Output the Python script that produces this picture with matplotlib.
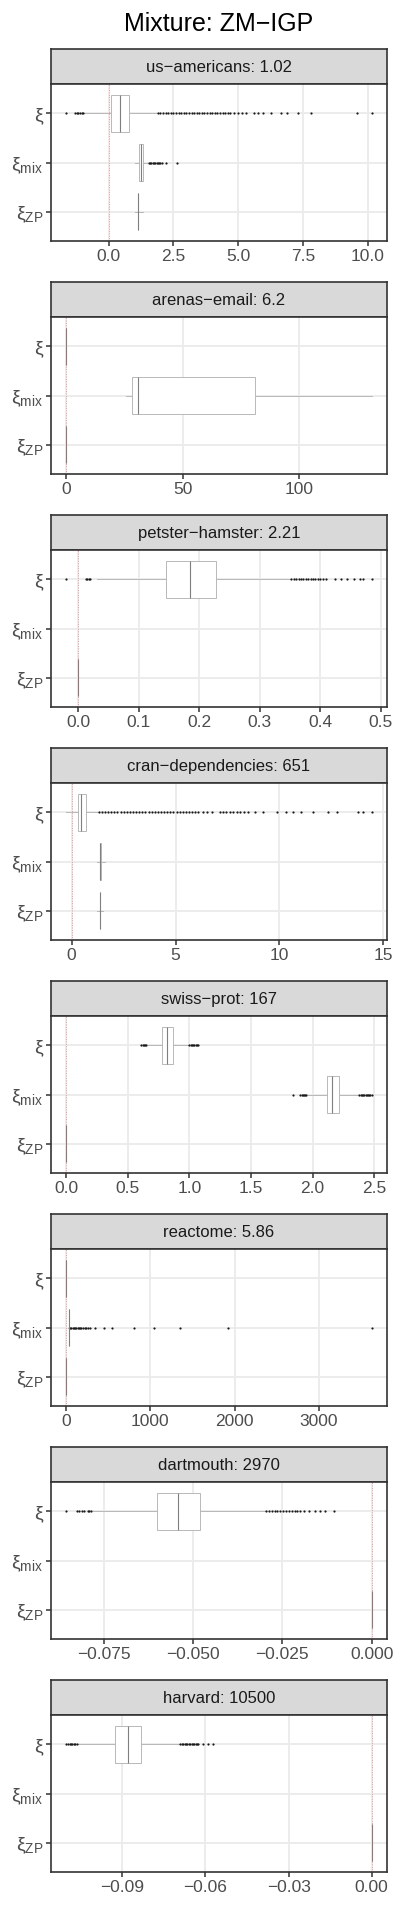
import matplotlib
matplotlib.use("Agg")
import matplotlib.pyplot as plt

plt.rcParams['font.family'] = ['Liberation Sans', 'DejaVu Sans']
plt.rcParams['mathtext.fontset'] = 'custom'
plt.rcParams['mathtext.rm'] = 'Liberation Sans'
plt.rcParams['mathtext.it'] = 'Liberation Sans:italic'

title = "Mixture: ZM\u2212IGP"
networks = ["us\u2212americans", "arenas\u2212email", "petster\u2212hamster", "cran\u2212dependencies",
            "swiss\u2212prot", "reactome", "dartmouth", "harvard"]
network_values = ["1.02", "6.2", "2.21", "651", "167", "5.86", "2970", "10500"]
row_labels = ["\u03be", "\u03be$_{\\mathrm{mix}}$", "\u03be$_{\\mathrm{ZP}}$"]

# box stats: whislo, q1, med, q3, whishi
xi_box = [
    [-0.95, 0.08, 0.45, 0.78, 1.85],
    [0, 0, 0, 0, 0],
    [0.03, 0.145, 0.185, 0.2275, 0.35],
    [-0.26, 0.30, 0.47, 0.71, 1.27],
    [0.667, 0.78, 0.82, 0.864, 0.99],
    [0, 0, 0, 0, 0],
    [-0.078, -0.0602, -0.0541, -0.0482, -0.030],
    [-0.1062, -0.0927, -0.088, -0.0833, -0.0693],
]
mix_box = [
    [1.03, 1.17, 1.25, 1.32, 1.51],
    [25.8, 28.4, 31.0, 81.2, 131.3],
    None,
    [1.22, 1.37, 1.38, 1.39, 1.59],
    [1.96, 2.113, 2.16, 2.216, 2.377],
    [20, 28, 31, 34, 42],
    None,
    None,
]
zp_box = [
    [1.02, 1.12, 1.13, 1.14, 1.34],
    [0, 0, 0, 0, 0],
    [0, 0, 0, 0, 0],
    [1.20, 1.34, 1.35, 1.36, 1.50],
    [0, 0, 0, 0, 0],
    [0, 0, 0, 0, 0],
    [0, 0, 0, 0, 0],
    [0, 0, 0, 0, 0],
]

xi_fliers = [
    [-1.63, -1.30, -1.22, -1.16, -1.10, -1.04, -0.99,
     1.90, 2.00, 2.10, 2.20, 2.30, 2.40, 2.50, 2.60, 2.70, 2.80, 2.90, 3.00, 3.10, 3.20,
     3.30, 3.40, 3.50, 3.60, 3.70, 3.80, 3.90, 4.00, 4.10, 4.20, 4.30, 4.40, 4.50, 4.60,
     4.70, 4.85, 5.00, 5.15, 5.30, 5.60, 5.75, 5.95, 6.25, 6.65, 6.90, 7.30, 7.80, 9.60, 10.15],
    [],
    [-0.020, 0.013, 0.015, 0.017, 0.020, 0.352, 0.356, 0.360, 0.364, 0.368, 0.372, 0.376,
     0.380, 0.384, 0.388, 0.392, 0.396, 0.400, 0.405, 0.410, 0.425, 0.434, 0.444, 0.455,
     0.466, 0.471, 0.485],
    [1.30, 1.45, 1.60, 1.75, 1.90, 2.05, 2.20, 2.35, 2.50, 2.65, 2.80, 2.95, 3.10, 3.25,
     3.40, 3.55, 3.70, 3.85, 4.00, 4.15, 4.30, 4.45, 4.60, 4.75, 4.90, 5.05, 5.20, 5.35,
     5.50, 5.65, 5.80, 5.95, 6.10, 6.30, 6.49, 6.73, 7.13, 7.30, 7.45, 7.60, 7.76, 7.95,
     8.10, 8.30, 8.50, 8.80, 9.20, 9.86, 10.30, 10.66, 11.06, 11.62, 12.35, 12.75, 13.80,
     14.04, 14.44],
    [0.61, 0.62, 0.63, 0.64, 0.65, 1.00, 1.01, 1.02, 1.03, 1.04, 1.05, 1.06, 1.07],
    [],
    [-0.0855, -0.0825, -0.0820, -0.0810, -0.0805, -0.0795, -0.0790, -0.0785,
     -0.0296, -0.0288, -0.0280, -0.0272, -0.0264, -0.0256, -0.0248, -0.0240, -0.0232,
     -0.0224, -0.0216, -0.0208, -0.0200, -0.0190, -0.0175, -0.0160, -0.0145, -0.0130, -0.0105],
    [-0.1102, -0.1095, -0.1090, -0.1085, -0.1080, -0.1075, -0.1070, -0.1065,
     -0.0690, -0.0685, -0.0680, -0.0675, -0.0670, -0.0665, -0.0660, -0.0655, -0.0650,
     -0.0645, -0.0640, -0.0635, -0.0630, -0.0625, -0.0609, -0.0591, -0.0573],
]
mix_fliers = [
    [1.55, 1.60, 1.65, 1.70, 1.75, 1.80, 1.85, 1.90, 1.95, 2.00, 2.08, 2.20, 2.64],
    [],
    [],
    [],
    [1.84, 1.90, 1.91, 1.92, 1.93, 1.94, 1.95, 2.38, 2.39, 2.40, 2.41, 2.42, 2.43, 2.44,
     2.45, 2.46, 2.47, 2.48],
    [45, 60, 75, 90, 105, 120, 135, 150, 165, 180, 200, 220, 240, 260, 280, 347, 445,
     545, 800, 1038, 1354, 1918, 3631],
    [],
    [],
]
zp_fliers = [[], [], [], [], [], [], [], []]

xticks = [
    [0, 2.5, 5, 7.5, 10],
    [0, 50, 100],
    [0, 0.1, 0.2, 0.3, 0.4, 0.5],
    [0, 5, 10, 15],
    [0, 0.5, 1.0, 1.5, 2.0, 2.5],
    [0, 1000, 2000, 3000],
    [-0.075, -0.05, -0.025, 0],
    [-0.09, -0.06, -0.03, 0],
]
xticklabels = [
    ["0.0", "2.5", "5.0", "7.5", "10.0"],
    ["0", "50", "100"],
    ["0.0", "0.1", "0.2", "0.3", "0.4", "0.5"],
    ["0", "5", "10", "15"],
    ["0.0", "0.5", "1.0", "1.5", "2.0", "2.5"],
    ["0", "1000", "2000", "3000"],
    ["\u22120.075", "\u22120.050", "\u22120.025", "0.000"],
    ["\u22120.09", "\u22120.06", "\u22120.03", "0.00"],
]


def make_stats(box, fliers):
    return dict(whislo=box[0], q1=box[1], med=box[2], q3=box[3], whishi=box[4], fliers=fliers)


W, H = 399, 1913
fig = plt.figure(figsize=(W / 100, H / 100), dpi=100)
fig.text(219 / W, 1 - 31 / H, title, ha='center', va='baseline', fontsize=18, color='black')

left, right = 51, 387
strip_h, ax_h, step = 35, 157, 233
dark = '#333333'

for k in range(8):
    top = 49 + step * k
    sax = fig.add_axes([left / W, 1 - (top + strip_h) / H, (right - left) / W, strip_h / H])
    sax.set_facecolor('#d9d9d9')
    sax.set_xticks([])
    sax.set_yticks([])
    for s in sax.spines.values():
        s.set_color(dark)
        s.set_linewidth(1.2)
    sax.text(0.5, 0.48, networks[k] + ": " + network_values[k], ha='center', va='center',
             fontsize=12, color='#1a1a1a', transform=sax.transAxes)

    ax = fig.add_axes([left / W, 1 - (top + strip_h + ax_h) / H, (right - left) / W, ax_h / H])
    stats, pos = [], []
    allvals = []
    for box, fl, p in [(xi_box[k], xi_fliers[k], 3), (mix_box[k], mix_fliers[k], 2),
                       (zp_box[k], zp_fliers[k], 1)]:
        if box is None:
            continue
        stats.append(make_stats(box, fl))
        pos.append(p)
        allvals += list(box) + list(fl)
    ax.bxp(stats, positions=pos, widths=0.75, orientation='horizontal', patch_artist=True,
           showcaps=False,
           boxprops=dict(facecolor='white', edgecolor='#b8b8b8', linewidth=0.7),
           whiskerprops=dict(color='#b8b8b8', linewidth=0.7),
           medianprops=dict(color='#7f7f7f', linewidth=0.8),
           flierprops=dict(marker='o', markersize=1.6, markerfacecolor='#1a1a1a',
                           markeredgecolor='none'))
    ax.axvline(0, color='#ff4d4d', linewidth=0.5, linestyle=(0, (1, 2.5)), zorder=4)

    lo, hi = min(allvals), max(allvals)
    pad = (hi - lo) * 0.05
    ax.set_xlim(lo - pad, hi + pad)
    ax.set_ylim(0.4, 3.6)
    ax.set_xticks(xticks[k])
    ax.set_xticklabels(xticklabels[k])
    ax.set_yticks([3, 2, 1])
    ax.set_yticklabels(row_labels)
    ax.grid(True, color='#ebebeb', linewidth=1.3)
    ax.set_axisbelow(True)
    ax.tick_params(axis='both', colors=dark, labelcolor='#4d4d4d', labelsize=12.5,
                   length=3.5, width=1.1)
    ax.tick_params(axis='y', pad=2, labelsize=14)
    ax.tick_params(axis='x', pad=2.5)
    for s in ax.spines.values():
        s.set_color(dark)
        s.set_linewidth(1.2)

fig.savefig("out.png", dpi=100)
